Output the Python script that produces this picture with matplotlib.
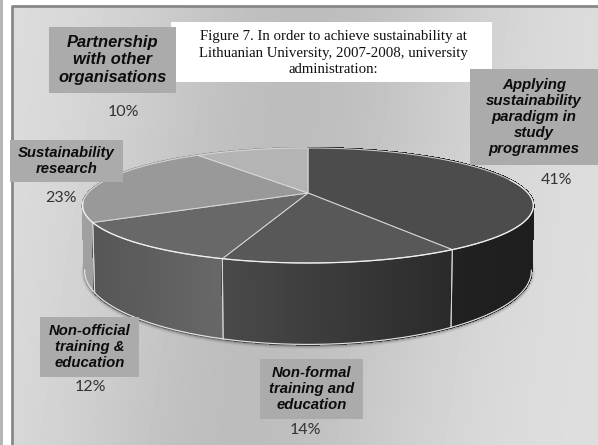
import numpy as np
import matplotlib
matplotlib.use('Agg')
import matplotlib.pyplot as plt
from matplotlib.collections import PolyCollection
from matplotlib.colors import to_rgb
from matplotlib.patches import Polygon, Rectangle

# slices clockwise from 12 o'clock
categories = ['Applying\nsustainability\nparadigm in\nstudy\nprogrammes',
              'Non-formal\ntraining and\neducation',
              'Non-official\ntraining &\neducation',
              'Sustainability\nresearch',
              'Partnership\nwith other\norganisations']
values = [41, 14, 12, 23, 10]
top_colors = ['#4c4c4c', '#585858', '#686868', '#999999', '#b4b4b4']
side_left = ['#262626', '#4a4a4a', '#565656', '#a0a0a0', '#a0a0a0']
side_right = ['#1e1e1e', '#2a2a2a', '#686868', '#a0a0a0', '#a0a0a0']

# label box (x0, y0, x1, y1), pct text position
boxes = [(470, 69, 598, 165), (260, 359, 363, 419), (40, 317, 139, 377), (10, 140, 123, 182), (49, 27, 176, 93)]
pct_pos = [(557, 180), (305, 430), (90, 387), (61, 198), (123, 112)]
fsize = [10.8, 10.7, 10.7, 10.7, 11.9]

cx, cy = 308, 193
k = 0.217


def project(theta, a, b, yc):
    c = -np.cos(theta)
    d = 1 - k * c
    return cx + a * np.sin(theta) / d, yc + b * c / d


fig = plt.figure(figsize=(5.98, 4.45), dpi=100)
ax = fig.add_axes([0, 0, 1, 1])
ax.set_xlim(0, 598)
ax.set_ylim(445, 0)
ax.axis('off')

# background
xx, yy = np.meshgrid(np.arange(598), np.arange(445))
dist = (xx - 275 + (yy - 220) * 0.15) / 190.0
bg = 0.875 - 0.135 * np.exp(-dist ** 2)
im = ax.imshow(bg, cmap='gray', vmin=0, vmax=1, extent=(0, 598, 445, 0), aspect='auto', zorder=0)
im.set_clip_path(Rectangle((12, 6), 586, 439, transform=ax.transData))
ax.plot([12, 12, 598], [445, 6, 6], color='#888888', lw=2, zorder=1)
ax.plot([1, 1], [0, 445], color='#b0b0b0', lw=2, zorder=1)

edges = np.cumsum([0] + values) / sum(values) * 2 * np.pi

# soft shadow under the cake
t = np.linspace(0, 2 * np.pi, 300)
sx, sy = project(t, 218, 70, 255)
for lw, al in [(5, 0.08), (3, 0.14), (1.5, 0.25)]:
    ax.plot(sx, sy + 1, color='#303030', lw=lw, alpha=al, zorder=1.5)

# sides, one thin quad per step so the shade can run along x
for i in [4, 3, 2, 1, 0]:
    t = np.linspace(edges[i], edges[i + 1], 150)
    x1, y1 = project(t, 220, 54.8, cy)
    x2, y2 = project(t, 218, 70, 255)
    quads = [[(x1[j], y1[j]), (x1[j + 1], y1[j + 1]), (x2[j + 1], y2[j + 1]), (x2[j], y2[j])]
             for j in range(len(t) - 1)]
    c0, c1 = np.array(to_rgb(side_left[i])), np.array(to_rgb(side_right[i]))
    f = (x1[:-1] - x1.min()) / (x1.max() - x1.min())
    cols = c0 + f[:, None] * (c1 - c0)
    ax.add_collection(PolyCollection(quads, facecolors=cols, edgecolors=cols, linewidths=1.0,
                                     antialiaseds=False, zorder=2))
    front = -np.cos(t) > 0.2
    ax.plot(x2[front], y2[front], color='#e8e8e8', lw=0.8, zorder=2.2)
    for e in (edges[i], edges[i + 1]):
        if np.cos(e) < 0.2:
            xa, ya = project(e, 220, 54.8, cy)
            xb, yb = project(e, 218, 70, 255)
            ax.plot([xa, xb], [ya, yb], color='#d8d8d8', lw=0.7, zorder=2.3)

# top faces
for i in range(5):
    t = np.linspace(edges[i], edges[i + 1], 120)
    x1, y1 = project(t, 220, 54.8, cy)
    ax.add_patch(Polygon(np.c_[np.r_[cx, x1], np.r_[cy, y1]], closed=True, fc=top_colors[i],
                         ec='#d8d8d8', lw=0.7, zorder=3))

# bright front rim of the top face
t = np.linspace(np.pi * 0.42, np.pi * 1.45, 200)
rx, ry = project(t, 220, 54.8, cy)
ax.plot(rx, ry, color='#f0f0f0', lw=0.9, zorder=3.2)

# title box
ax.add_patch(Rectangle((171, 22), 321, 60, fc='white', ec='none', zorder=5))
ax.text(333, 53, 'Figure 7. In order to achieve sustainability at\nLithuanian University, 2007-2008, university\nadministration:',
        family='Liberation Serif', fontsize=10.7, ha='center', va='center', linespacing=1.33, color='#111111', zorder=6)

# labels
for i in range(5):
    x0, y0, x1, y1 = boxes[i]
    ax.add_patch(Rectangle((x0, y0), x1 - x0, y1 - y0, fc='#ababab', ec='none', zorder=5))
    ax.text((x0 + x1) / 2, (y0 + y1) / 2, categories[i], family='Liberation Sans', weight='bold', style='italic',
            fontsize=fsize[i], ha='center', va='center', linespacing=1.2, color='#0c0c0c', zorder=6)
    ax.text(pct_pos[i][0], pct_pos[i][1], '%d%%' % values[i], family='Lato', fontsize=11.5,
            ha='center', va='center', color='#333333', zorder=6)

fig.savefig('out.png', dpi=100)
